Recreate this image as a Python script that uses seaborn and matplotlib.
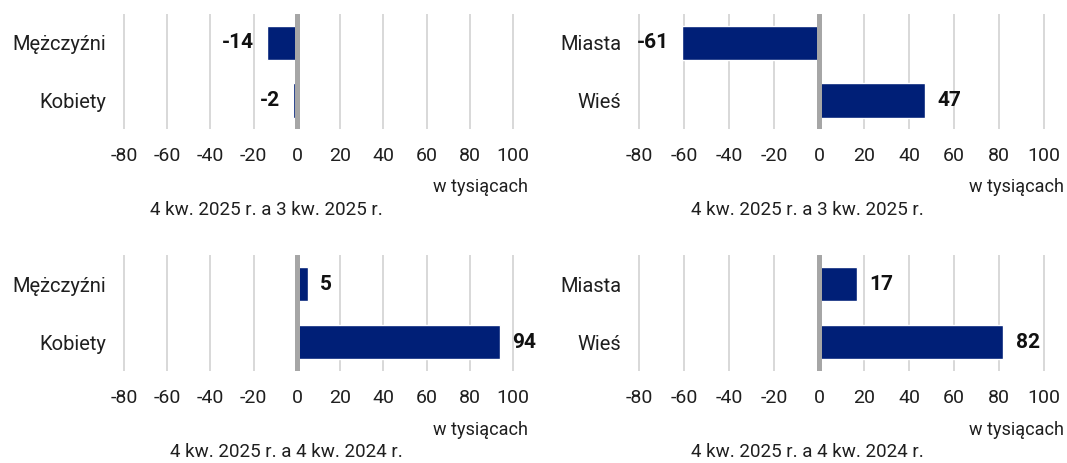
import matplotlib
matplotlib.use("Agg")
import matplotlib.pyplot as plt
import seaborn as sns
import pandas as pd

# ---- data ----
sex_categories = ["Mężczyźni", "Kobiety"]
place_categories = ["Miasta", "Wieś"]
sex_q_vs_q = [-14, -2]
place_q_vs_q = [-61, 47]
sex_y_vs_y = [5, 94]
place_y_vs_y = [17, 82]
x_ticks = [-80, -60, -40, -20, 0, 20, 40, 60, 80, 100]
subtitle_q = "4 kw. 2025 r. a 3 kw. 2025 r."
subtitle_y = "4 kw. 2025 r. a 4 kw. 2024 r."
unit_label = "w tysiącach"

NAVY = "#001f77"
GRID = "#d9d9d9"
ZERO = "#a6a6a6"
TEXT = "#1f1f1f"

sns.set_theme(style="white")
plt.rcParams["font.family"] = ["Roboto", "DejaVu Sans"]
plt.rcParams["axes.unicode_minus"] = False

W, H = 1067, 463
PX = 0.72  # points per pixel at dpi 100
fig = plt.figure(figsize=(W / 100, H / 100), dpi=100)

def ax_at(x0, x1, y0, y1):
    span = 180.0
    ppu = (x1 - x0) / span
    x0e = x0 - 0.5 * ppu
    x1e = x1 + 0.5 * ppu
    return fig.add_axes([x0e / W, 1 - y1 / H, (x1e - x0e) / W, (y1 - y0) / H])

panels = [
    (ax_at(124, 513, 14, 129), sex_categories, sex_q_vs_q),
    (ax_at(639, 1044, 14, 129), place_categories, place_q_vs_q),
    (ax_at(124, 513, 255, 371), sex_categories, sex_y_vs_y),
    (ax_at(639, 1044, 255, 371), place_categories, place_y_vs_y),
]

for ax, cats, vals in panels:
    df = pd.DataFrame({"category": cats, "value": vals})
    sns.barplot(data=df, x="value", y="category", orient="h", color=NAVY,
                saturation=1, width=0.6, ax=ax, zorder=2)
    ax.set_xlim(-80.5, 100.5)
    ax.set_xticks(x_ticks)
    ax.set_xticklabels([str(t) for t in x_ticks])
    ax.set_xlabel("")
    ax.set_ylabel("")
    for s in ax.spines.values():
        s.set_visible(False)
    ax.grid(False)
    for t in x_ticks:
        if t != 0:
            ax.axvline(t, color=GRID, lw=2 * PX, zorder=0)
    ax.axvline(0, color=ZERO, lw=5 * PX, zorder=3)
    ax.tick_params(axis="x", length=0, pad=13, labelsize=14, labelcolor=TEXT)
    ax.tick_params(axis="y", length=0, pad=12, labelsize=14.5, labelcolor=TEXT)
    for i, v in enumerate(vals):
        off = 9 if v >= 0 else -9
        ax.annotate(str(v), xy=(v, i), xytext=(off, 0), textcoords="offset points",
                    ha="left" if v >= 0 else "right", va="center",
                    fontsize=15, fontweight="bold", color="#111111", zorder=4)

for x, y in [(528, 187), (1064, 187), (528, 430), (1064, 430)]:
    fig.text(x / W, 1 - y / H, unit_label, ha="right", va="center",
             fontsize=13, color=TEXT)
for x, y, s in [(266, 210, subtitle_q), (807, 210, subtitle_q),
                (286, 452, subtitle_y), (807, 452, subtitle_y)]:
    fig.text(x / W, 1 - y / H, s, ha="center", va="center",
             fontsize=13.5, color=TEXT)

fig.savefig("out.png", dpi=100, facecolor="white")
